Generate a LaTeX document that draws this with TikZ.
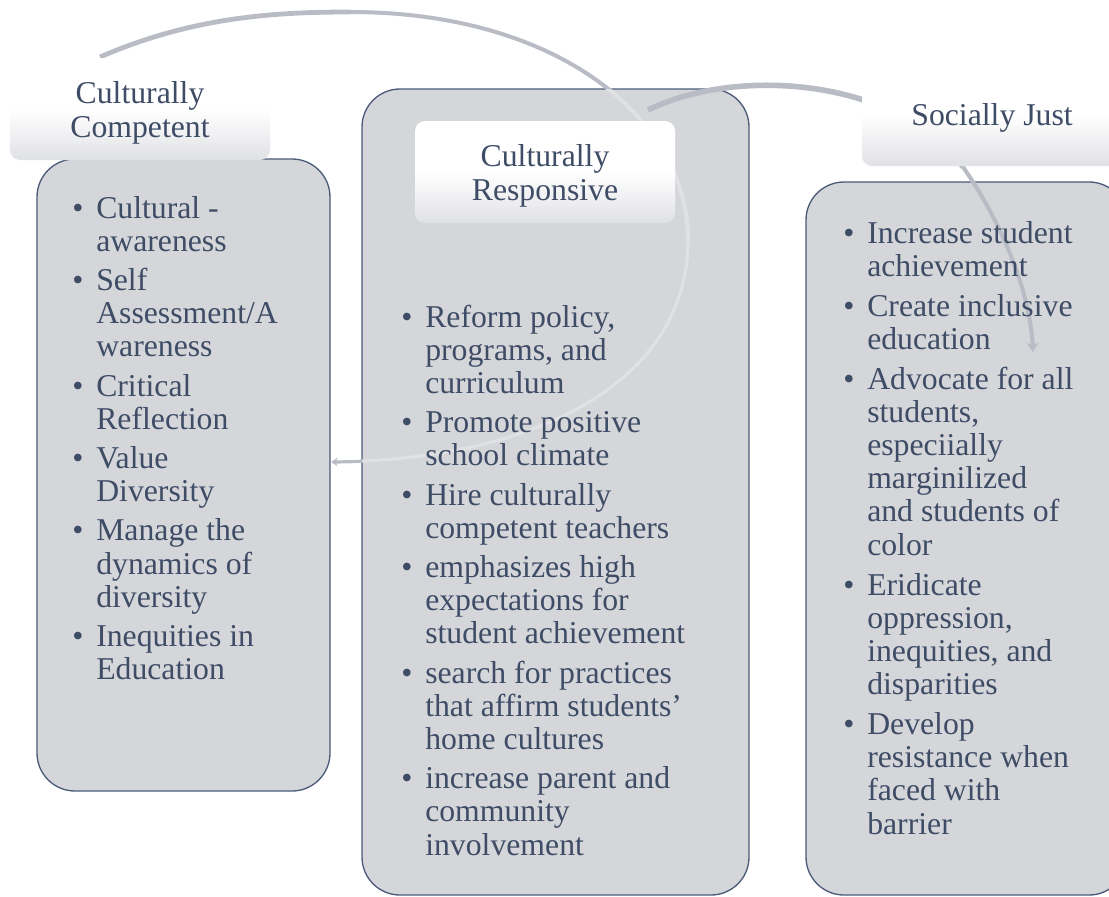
\documentclass[tikz,border=0pt]{standalone}
\usepackage{fontspec}
\setmainfont{Liberation Serif}
\usetikzlibrary{arrows.meta,positioning,calc}
\definecolor{boxgray}{RGB}{213,214,218}
\definecolor{boxedge}{RGB}{76,91,120}
\definecolor{textblue}{RGB}{62,76,102}
\definecolor{arcgray}{RGB}{185,188,196}
\definecolor{arclight}{RGB}{224,225,228}
\definecolor{headgray}{RGB}{224,225,229}
\newcommand{\listfont}{\fontsize{23.8pt}{24.9pt}\selectfont}
\newcommand{\headfont}{\fontsize{23.8pt}{25.8pt}\selectfont}
\newcommand{\headstrut}{\rule{0pt}{22pt}}

\begin{document}
\begin{tikzpicture}[
    x=0.75pt, y=-0.75pt,
    listbox/.style={draw=boxedge,line width=1pt,fill=boxgray,rounded corners=28.5pt,inner sep=0},
    headbox/.style={rounded corners=7.5pt,minimum width=195pt,minimum height=76.5pt,inner sep=0,
        top color=white,bottom color=headgray,middle color=white,
        align=center,font=\headfont,text=textblue},
    listtext/.style={anchor=base west,inner sep=0,font=\listfont,text=textblue},
    arcline/.style={draw=arcgray}
]
\useasboundingbox (0,0) rectangle (1109,896);
\clip (0,0) rectangle (1109,896);

% Culturally Competent box
\node[listbox,minimum width=219.75pt,minimum height=474pt] (ccbox) at (183.5,475) {};

% arc from Culturally Competent round to its box
\coordinate (arcAstart) at (100,57);
\coordinate (arcAtop) at (350,12);
\coordinate (arcAright) at (688,240);
\coordinate (arcAend) at (331,462);
\draw[arcline,line width=3.6pt] (arcAstart) .. controls (190,18) and (270,12) .. (arcAtop);
\draw[arcline,line width=3pt] (arcAtop) .. controls (560,12) and (688,120) .. (arcAright);
\draw[arcline,line width=2.4pt,-{Stealth[length=5pt,width=6.5pt]}] (arcAright) .. controls (688,380) and (540,460) .. (arcAend);

% Culturally Responsive and Socially Just boxes
\node[listbox,minimum width=290.25pt,minimum height=604.5pt] (crbox) at (555.5,492) {};
\node[listbox,minimum width=240.75pt,minimum height=534.75pt] (sjbox) at (966.5,538.5) {};

% arc seen through the middle box
\begin{scope}
\clip[rounded corners=28.5pt] (crbox.north west) rectangle (crbox.south east);
\draw[draw=arclight,line width=3pt] (arcAtop) .. controls (560,12) and (688,120) .. (arcAright);
\draw[draw=arclight,line width=2.4pt] (arcAright) .. controls (688,380) and (540,460) .. (arcAend);
\end{scope}

% arc from Culturally Responsive to Socially Just
\coordinate (arcBstart) at (648,110);
\coordinate (arcBmid) at (963,167);
\coordinate (arcBend) at (1033,352);
\draw[arcline,line width=4.2pt] (arcBstart) .. controls (740,65) and (900,80) .. (arcBmid);
\draw[arcline,line width=3pt,-{Stealth[length=7pt,width=9pt]}] (arcBmid) .. controls (1000,220) and (1030,290) .. (arcBend);

% Headers
\node[headbox] (cchead) at (140,109) {\headstrut Culturally\\Competent};
\node[headbox] (crhead) at (545,172) {\headstrut Culturally\\Responsive};
\node[headbox] (sjhead) at (992,115) {\rule{0pt}{20.5pt}Socially Just};

% Lists
\node[listtext] (cclist) at (72,218) {\begin{tabular}[t]{@{}p{18pt}@{}l@{}}
\textbullet & Cultural -\\
 & awareness\\[4.5pt]
\textbullet & Self\\
 & Assessment/A\\
 & wareness\\[4.5pt]
\textbullet & Critical\\
 & Reflection\\[4.5pt]
\textbullet & Value\\
 & Diversity\\[4.5pt]
\textbullet & Manage the\\
 & dynamics of\\
 & diversity\\[4.5pt]
\textbullet & Inequities in\\
 & Education
\end{tabular}};

\node[listtext] (crlist) at (401,327) {\begin{tabular}[t]{@{}p{18pt}@{}l@{}}
\textbullet & Reform policy,\\
 & programs, and\\
 & curriculum\\[4.5pt]
\textbullet & Promote positive\\
 & school climate\\[4.5pt]
\textbullet & Hire culturally\\
 & competent teachers\\[4.5pt]
\textbullet & emphasizes high\\
 & expectations for\\
 & student achievement\\[4.5pt]
\textbullet & search for practices\\
 & that affirm students’\\
 & home cultures\\[4.5pt]
\textbullet & increase parent and\\
 & community\\
 & involvement
\end{tabular}};

\node[listtext] (sjlist) at (843,243) {\begin{tabular}[t]{@{}p{18pt}@{}l@{}}
\textbullet & Increase student\\
 & achievement\\[5pt]
\textbullet & Create inclusive\\
 & education\\[5pt]
\textbullet & Advocate for all\\
 & students,\\
 & especiially\\
 & marginilized\\
 & and students of\\
 & color\\[5pt]
\textbullet & Eridicate\\
 & oppression,\\
 & inequities, and\\
 & disparities\\[5pt]
\textbullet & Develop\\
 & resistance when\\
 & faced with\\
 & barrier
\end{tabular}};

\end{tikzpicture}
\end{document}
